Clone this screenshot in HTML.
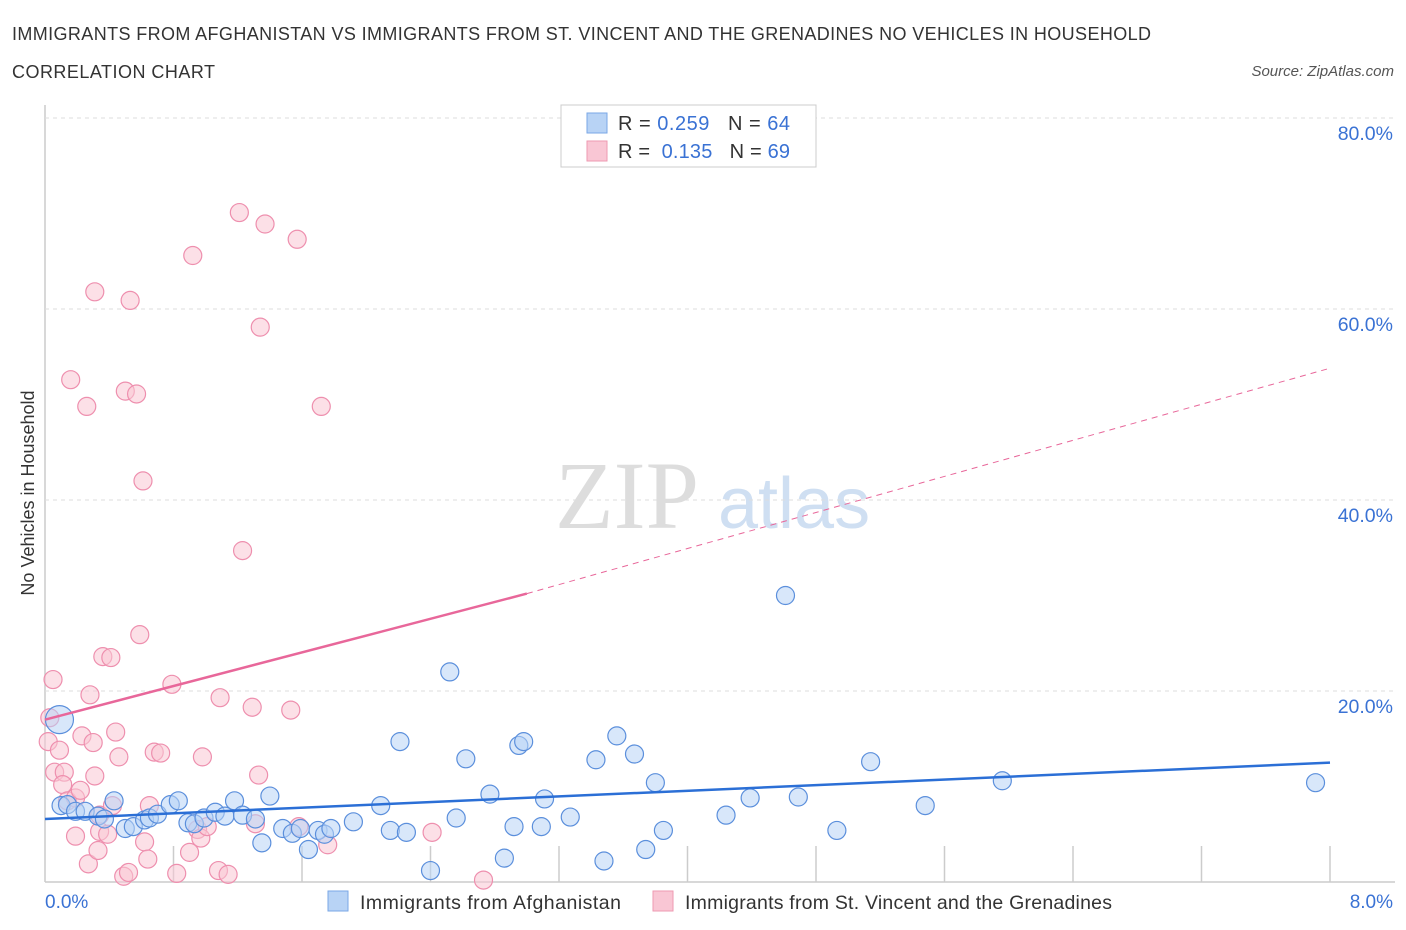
<!DOCTYPE html>
<html><head><meta charset="utf-8"><style>
body{margin:0;background:#fff;font-family:"Liberation Sans",sans-serif;}
svg{display:block}
</style></head><body>
<svg id="chart" width="1406" height="930">
<text x="12" y="40" font-size="18" fill="#333" textLength="1139">IMMIGRANTS FROM AFGHANISTAN VS IMMIGRANTS FROM ST. VINCENT AND THE GRENADINES NO VEHICLES IN HOUSEHOLD</text>
<text x="12" y="78" font-size="18" fill="#333" textLength="203">CORRELATION CHART</text>
<text x="1394" y="76" font-size="15" fill="#555" font-style="italic" text-anchor="end">Source: ZipAtlas.com</text>
<text x="34" y="493" font-size="18" fill="#333" text-anchor="middle" transform="rotate(-90 34 493)">No Vehicles in Household</text>
<text x="555" y="528" font-size="96" fill="#ddd" font-family="Liberation Serif,serif">ZIP</text>
<text x="718" y="528" font-size="72" fill="#cfdff2">atlas</text>
<g id="grid"></g><g id="marks"></g>
<g>
<rect x="561" y="105" width="255" height="62" fill="#fff" stroke="#ccc"/>
<rect x="587" y="113" width="20" height="20" fill="#b8d3f5" stroke="#7aa7e6"/>
<rect x="587" y="141" width="20" height="20" fill="#f9c6d4" stroke="#ee99b2"/>
<text x="618" y="130" font-size="20" fill="#333" textLength="172">R = <tspan fill="#3a72d4">0.259</tspan>&#160;&#160;&#160;N = <tspan fill="#3a72d4">64</tspan></text>
<text x="618" y="158" font-size="20" fill="#333" textLength="172">R = &#160;<tspan fill="#3a72d4">0.135</tspan>&#160;&#160;&#160;N = <tspan fill="#3a72d4">69</tspan></text>
</g>
<g>
<rect x="328" y="891" width="20" height="20" fill="#b8d3f5" stroke="#7aa7e6"/>
<text x="360" y="909" font-size="19.5" fill="#333" textLength="261">Immigrants from Afghanistan</text>
<rect x="653" y="891" width="20" height="20" fill="#f9c6d4" stroke="#ee99b2"/>
<text x="685" y="909" font-size="19.5" fill="#333" textLength="427">Immigrants from St. Vincent and the Grenadines</text>
</g>
<text x="45" y="908" font-size="19" fill="#3a72d4">0.0%</text>
<text x="1393" y="908" font-size="19" fill="#3a72d4" text-anchor="end">8.0%</text>
</svg>
<script>
const yTicks=[20,40,60,80];
const blueX=[0.09,0.1,0.14,0.19,0.25,0.33,0.37,0.43,0.5,0.55,0.62,0.65,0.7,0.78,0.83,0.89,0.93,0.99,1.06,1.12,1.18,1.23,1.31,1.35,1.4,1.48,1.54,1.59,1.64,1.7,1.74,1.78,1.92,2.09,2.15,2.21,2.25,2.4,2.52,2.56,2.62,2.77,2.86,2.92,2.95,2.98,3.09,3.11,3.27,3.43,3.48,3.56,3.67,3.74,3.8,3.85,4.24,4.39,4.61,4.69,4.93,5.14,5.48,5.96,7.91];
const blueY=[17,8,8.1,7.4,7.4,6.9,6.6,8.5,5.6,5.8,6.5,6.7,7.1,8.1,8.5,6.2,6.1,6.7,7.3,6.9,8.5,7.0,6.6,4.1,9.0,5.6,5.1,5.6,3.4,5.4,5.0,5.6,6.3,8,5.4,14.7,5.2,1.2,22.0,6.7,12.9,9.2,2.5,5.8,14.3,14.7,5.8,8.7,6.8,12.8,2.2,15.3,13.4,3.4,10.4,5.4,7.0,8.8,30.0,8.9,5.4,12.6,8,10.6,10.4];
const pinkX=[0.03,0.05,0.02,0.06,0.09,0.12,0.16,0.11,0.14,0.19,0.19,0.22,0.23,0.26,0.27,0.28,0.3,0.31,0.31,0.33,0.34,0.36,0.39,0.34,0.41,0.42,0.44,0.46,0.49,0.5,0.52,0.53,0.57,0.59,0.61,0.62,0.64,0.65,0.68,0.72,0.79,0.82,0.9,0.92,0.95,0.97,0.98,1.01,1.08,1.09,1.14,1.21,1.23,1.29,1.31,1.33,1.34,1.37,1.53,1.57,1.58,1.72,1.76,2.41,2.73];
const pinkY=[17.2,21.2,14.7,11.5,13.8,11.5,52.6,10.2,8.5,8.8,4.8,9.6,15.3,49.8,1.9,19.6,14.6,11.1,61.8,3.3,5.3,23.6,5.0,7.0,23.5,8.0,15.7,13.1,0.6,51.4,1.0,60.9,51.1,25.9,42.0,4.2,2.4,8.0,13.6,13.5,20.7,0.9,3.1,65.6,5.5,4.6,13.1,5.8,1.2,19.3,0.8,70.1,34.7,18.3,6.1,11.2,58.1,68.9,18.0,67.3,5.8,49.8,3.9,5.2,0.2];
const X0=45,X1=1330,Y0=882,PY=9.55;
const sx=v=>X0+v/8*(X1-X0), sy=v=>Y0-v*PY;
const NS='http://www.w3.org/2000/svg';
const grid=document.getElementById('grid'), marks=document.getElementById('marks');
function mk(t,a,p){const e=document.createElementNS(NS,t);for(const k in a)e.setAttribute(k,a[k]);p.appendChild(e);return e;}
let ax=mk('line',{x1:X0,y1:105,x2:X0,y2:Y0,stroke:'#ccc','stroke-width':1.5},grid);


let bx=mk('line',{x1:X0,y1:Y0,x2:X1+65,y2:Y0,stroke:'#ccc','stroke-width':1.5},grid);


[173.5,302,430.5,559,687.5,816,944.5,1073,1201.5,1330].forEach(x=>{const t=mk('line',{x1:x,y1:Y0-36,x2:x,y2:Y0,stroke:'#ccc','stroke-width':1.5},grid);

});
yTicks.forEach(v=>{const l=mk('line',{x1:X0,y1:sy(v),x2:1395,y2:sy(v),stroke:'#ddd','stroke-dasharray':'4,4'},grid);


const t=mk('text',{x:1393,y:sy(v)+22,'font-size':19.5,fill:'#3a72d4','text-anchor':'end'},grid);t.textContent=v.toFixed(1)+'%';

});
function pts(xs,ys,fill,stroke,name){xs.forEach((x,i)=>{const big=(i===0&&name==='blue-point');const c=mk('circle',{cx:sx(x),cy:sy(ys[i]),r:big?14:9,fill:fill,'fill-opacity':0.55,stroke:stroke,'stroke-width':1.2},marks);

});}
pts(pinkX,pinkY,'#f9c6d4','#ee8fae','pink-point');
pts(blueX,blueY,'#b8d3f5','#5b8fdc','blue-point');
let bl=mk('line',{x1:sx(0),y1:sy(6.6),x2:sx(8),y2:sy(12.5),stroke:'#2b6fd6','stroke-width':2.5},marks);


let pl=mk('line',{x1:sx(0),y1:sy(17),x2:sx(3),y2:sy(30.2),stroke:'#e8679a','stroke-width':2.5},marks);


let pd=mk('line',{x1:sx(3),y1:sy(30.2),x2:sx(8),y2:sy(53.8),stroke:'#e8679a','stroke-width':1,'stroke-dasharray':'6,5'},marks);


</script>
</body></html>
